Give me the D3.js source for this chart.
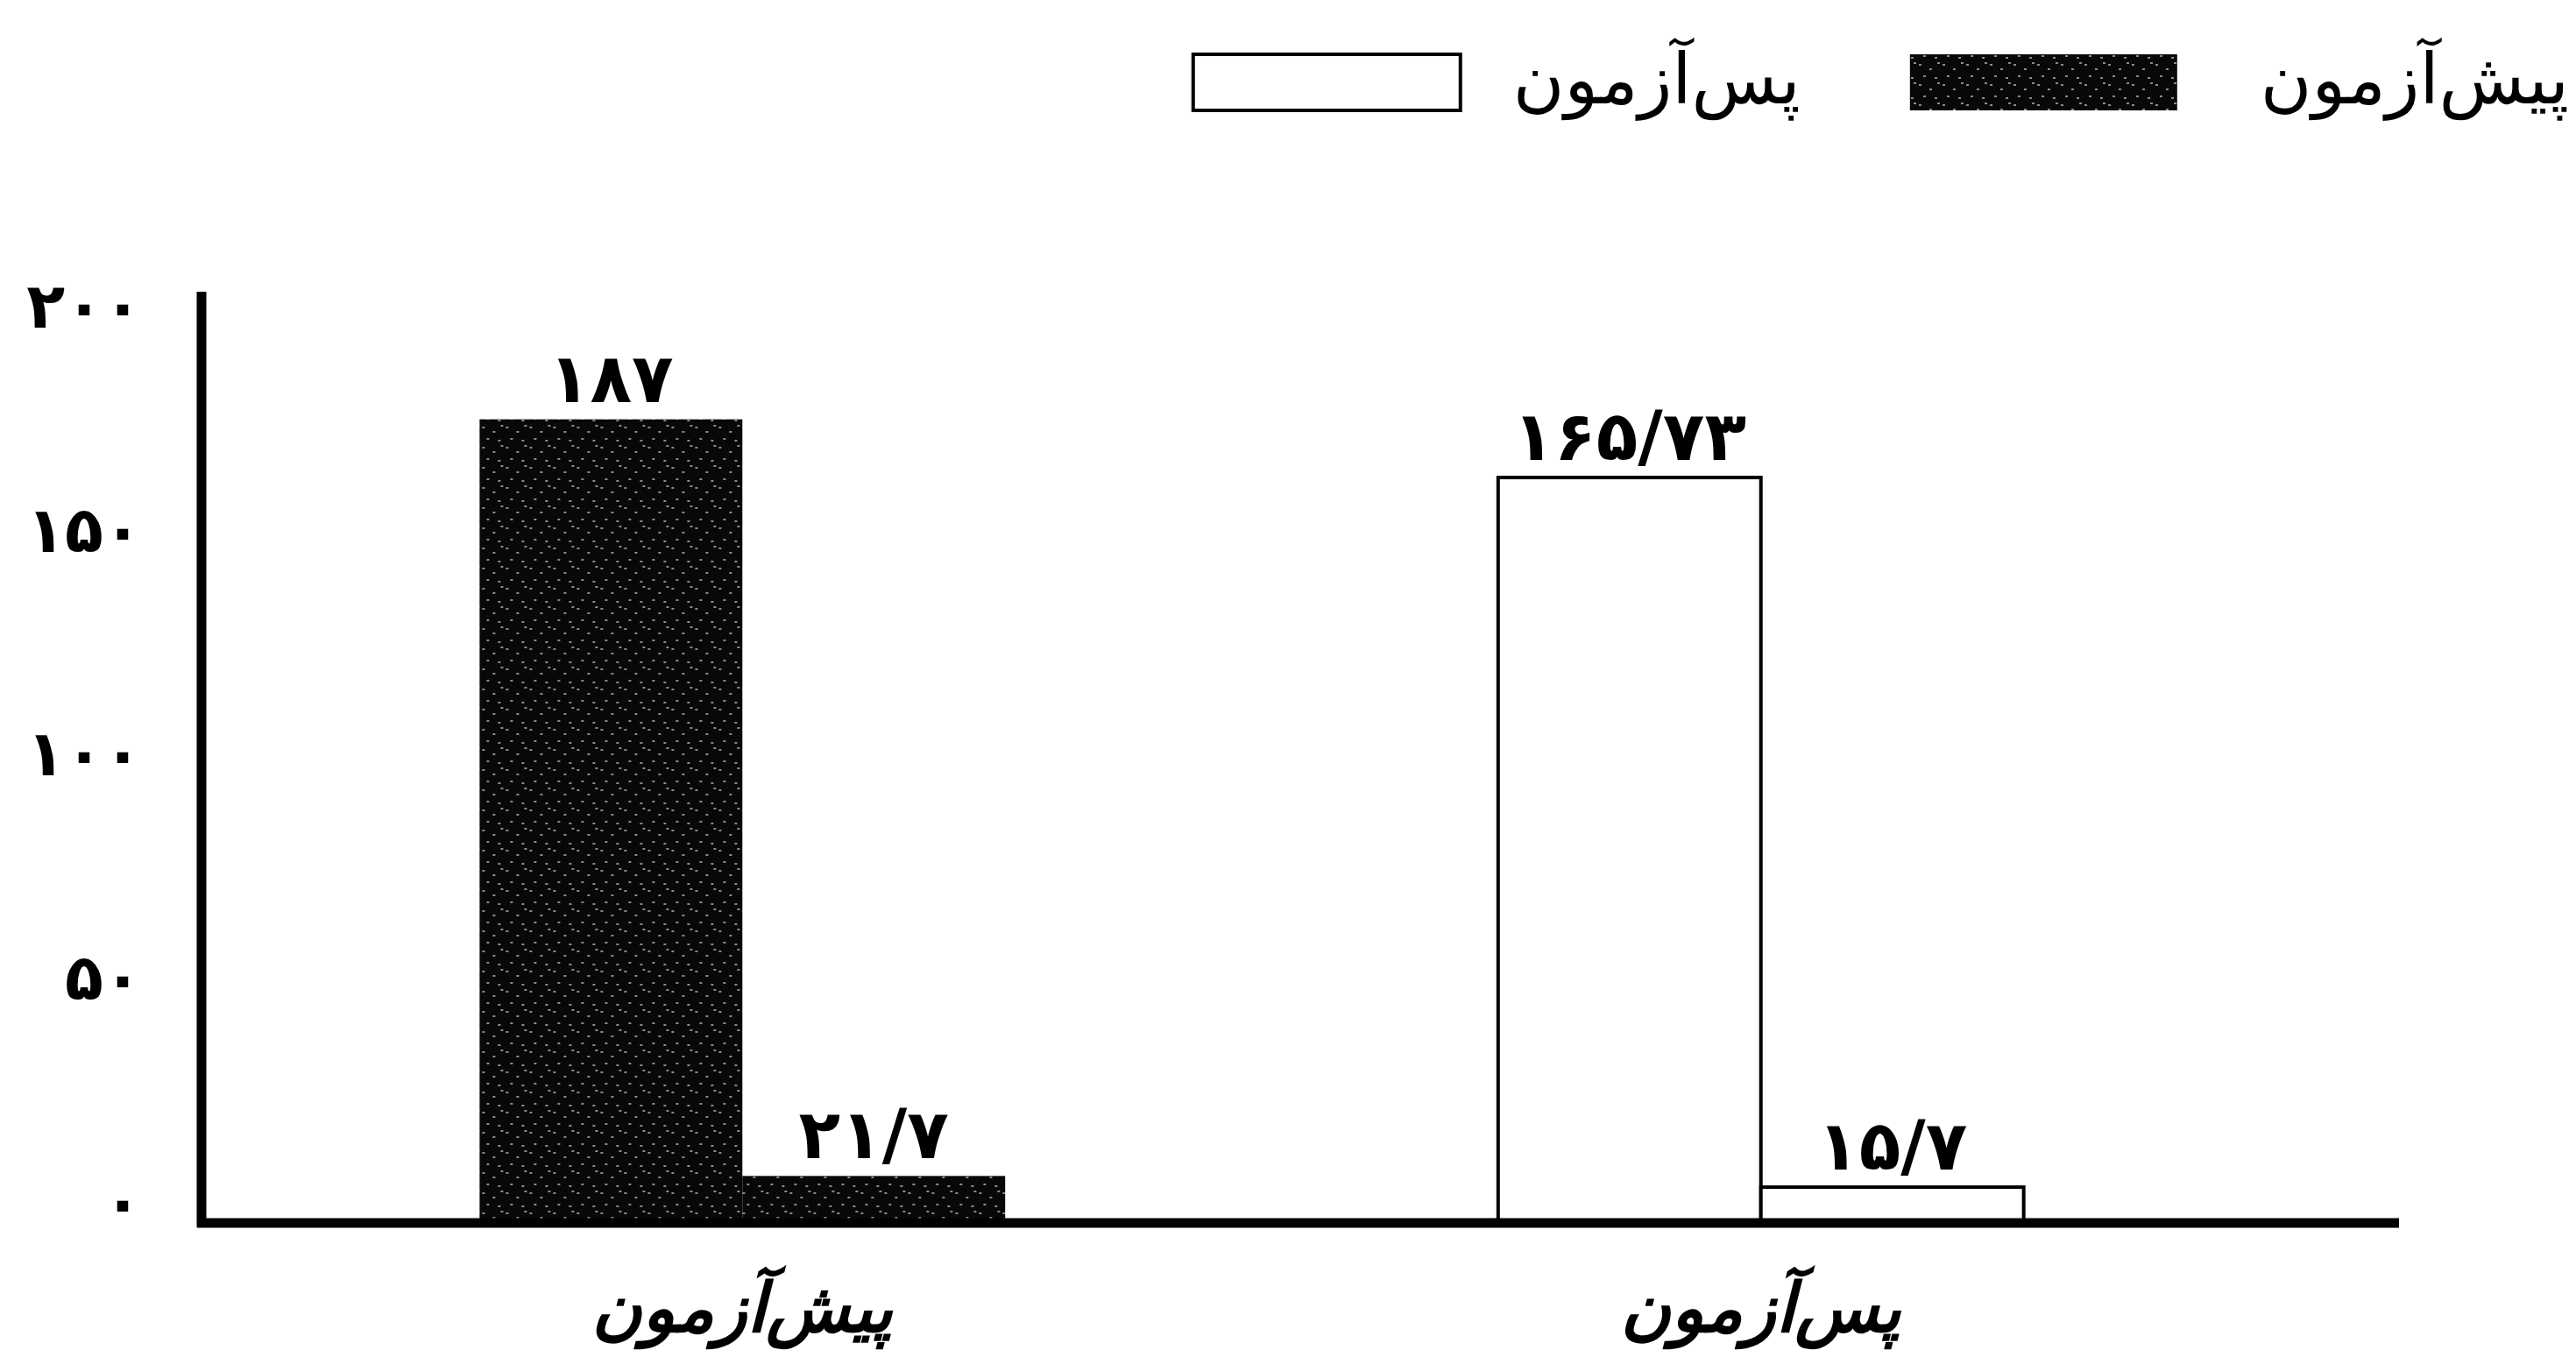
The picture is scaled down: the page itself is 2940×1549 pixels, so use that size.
<!DOCTYPE html>
<html>
<head>
<meta charset="utf-8">
<script src="https://cdnjs.cloudflare.com/ajax/libs/d3/7.8.5/d3.min.js"></script>
<style>
    html, body { margin: 0; padding: 0; background: #fff; }
    svg { display: block; }
    text { font-family: "DejaVu Sans", sans-serif; fill: #000; }
</style>
</head>
<body>
<div id="graph"></div>
<script>
// categories (groups) - colour goes with the group, legend too
const categories = ["پیش\u200cآزمون", "پس\u200cآزمون"];
// two bars in each group (unlabelled in the picture)
const measures = ["m1", "m2"];
// bar heights
const barHeights = [[179.5, 10.5], [166.5, 8]];
// numbers printed above the bars
const valueLabels = [["۱۸۷", "۲۱/۷"], ["۱۶۵/۷۳", "۱۵/۷"]];
const yTicks = [0, 50, 100, 150, 200];
const yTickLabels = ["۰", "۵۰", "۱۰۰", "۱۵۰", "۲۰۰"];
const legendLabels = ["پیش\u200cآزمون", "پس\u200cآزمون"];

const width = 2940, height = 1549;
const margin = {top: 333, right: 202, bottom: 153, left: 230};
const yMax = 208;

function createSVG() {
    const svg = d3.select("#graph")
        .append("svg")
        .attr("width", width)
        .attr("height", height);
    svg.append("rect")
        .attr("width", width)
        .attr("height", height)
        .attr("fill", "#fff");

    // speckled black fill like the print
    const pat = svg.append("defs").append("pattern")
        .attr("id", "speckle")
        .attr("patternUnits", "userSpaceOnUse")
        .attr("width", 27)
        .attr("height", 23);
    pat.append("rect").attr("width", 27).attr("height", 23).attr("fill", "#080808");
    [[3, 4], [15, 9], [8, 17], [21, 19], [24, 2]].forEach(p => {
        pat.append("rect")
            .attr("x", p[0]).attr("y", p[1])
            .attr("width", 3).attr("height", 2)
            .attr("fill", "#8a8a8a");
    });
    return svg;
}

function createScales() {
    const x0 = d3.scaleBand()
        .domain(categories)
        .range([margin.left, width - margin.right - 111])
        .paddingInner(0.484)
        .paddingOuter(0.273);
    const x1 = d3.scaleBand()
        .domain(measures)
        .range([0, x0.bandwidth()])
        .padding(0);
    const y = d3.scaleLinear()
        .domain([0, yMax])
        .range([height - margin.bottom, margin.top]);
    return [x0, x1, y];
}

function drawAxes(svg, scales) {
    const [x0, x1, y] = scales;
    const yAxis = d3.axisLeft(y)
        .tickValues(yTicks)
        .tickFormat((d, i) => yTickLabels[i])
        .tickSizeInner(0)
        .tickSizeOuter(0)
        .tickPadding(68);
    const gy = svg.append("g")
        .attr("class", "yAxis")
        .attr("transform", "translate(" + margin.left + ",0)")
        .call(yAxis);
    gy.select(".domain").remove();
    gy.selectAll("text")
        .attr("dy", "0")
        .attr("font-size", 72)
        .attr("font-weight", "bold")
        .style("font-family", "'DejaVu Sans', sans-serif");

    // heavy axis lines
    svg.append("line")
        .attr("x1", margin.left)
        .attr("x2", margin.left)
        .attr("y1", y(yMax))
        .attr("y2", y(0) + 5)
        .attr("stroke", "#000")
        .attr("stroke-width", 11);
    svg.append("line")
        .attr("x1", margin.left - 5)
        .attr("x2", width - margin.right)
        .attr("y1", y(0))
        .attr("y2", y(0))
        .attr("stroke", "#000")
        .attr("stroke-width", 11);

    // category labels under the groups
    svg.append("g").selectAll("text")
        .data(categories)
        .enter().append("text")
        .attr("x", d => x0(d) + x0.bandwidth() / 2)
        .attr("y", y(0) + 124)
        .attr("text-anchor", "middle")
        .attr("font-size", 78)
        .attr("font-weight", "bold")
        .attr("font-style", "italic")
        .text(d => d);
}

function drawBars(svg, scales) {
    const [x0, x1, y] = scales;
    const groups = svg.append("g").selectAll("g")
        .data(categories)
        .enter().append("g")
        .attr("transform", d => "translate(" + x0(d) + ",0)");

    groups.selectAll("rect")
        .data((d, i) => barHeights[i].map((v, j) => ({cat: i, key: measures[j], value: v})))
        .enter().append("rect")
        .attr("x", d => x1(d.key))
        .attr("y", d => y(d.value))
        .attr("width", x1.bandwidth())
        .attr("height", d => y(0) - y(d.value))
        .attr("fill", d => d.cat === 0 ? "url(#speckle)" : "#fff")
        .attr("stroke", "#000")
        .attr("stroke-width", d => d.cat === 0 ? 0 : 4);

    groups.selectAll("text.value")
        .data((d, i) => barHeights[i].map((v, j) => ({key: measures[j], value: v, label: valueLabels[i][j]})))
        .enter().append("text")
        .attr("class", "value")
        .attr("x", d => x1(d.key) + x1.bandwidth() / 2)
        .attr("y", d => y(d.value) - 20)
        .attr("text-anchor", "middle")
        .attr("font-size", 78)
        .attr("font-weight", "bold")
        .text(d => d.label);
}

function drawLegend(svg) {
    const g = svg.append("g").attr("class", "legend");
    const boxW = 305, boxTop = 62, boxH = 64;
    const gaps = [[95, 125], [60, 0]];
    let right = 2932;
    legendLabels.forEach((label, i) => {
        const t = g.append("text")
            .attr("x", right)
            .attr("y", 118)
            .attr("text-anchor", "end")
            .attr("font-size", 80)
            .text(label);
        const tw = t.node().getComputedTextLength();
        const boxRight = right - tw - gaps[i][0];
        g.append("rect")
            .attr("x", boxRight - boxW)
            .attr("y", boxTop)
            .attr("width", boxW)
            .attr("height", boxH)
            .attr("fill", i === 0 ? "url(#speckle)" : "#fff")
            .attr("stroke", "#000")
            .attr("stroke-width", i === 0 ? 0 : 4);
        right = boxRight - boxW - gaps[i][1];
    });
}

const svg = createSVG();
const scales = createScales();
drawBars(svg, scales);
drawAxes(svg, scales);
drawLegend(svg);
</script>
</body>
</html>
